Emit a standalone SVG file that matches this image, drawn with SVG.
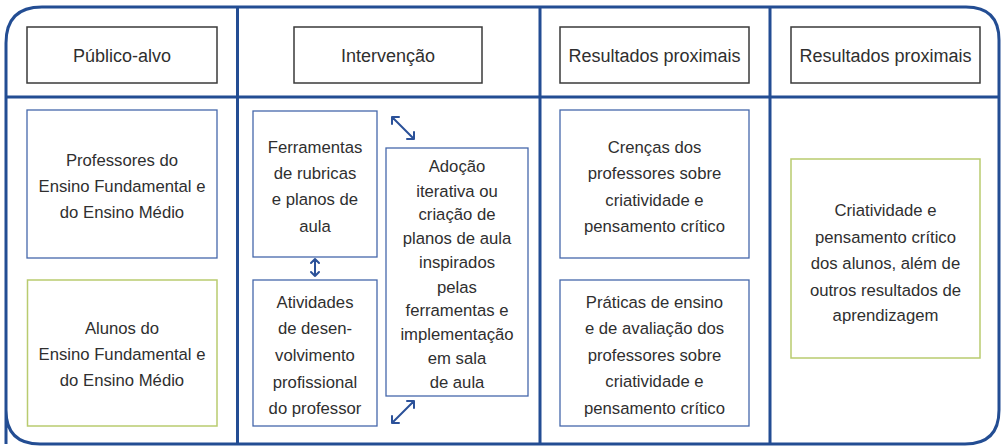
<svg xmlns="http://www.w3.org/2000/svg" width="1001" height="446" viewBox="0 0 1001 446">
<style>
text{font-family:"Liberation Sans",Arial,sans-serif;font-size:16.7px;fill:#2f2f2f;text-anchor:middle}
text.h{font-size:18px}
.frame{fill:none;stroke:#234d93;stroke-width:3}
.head{fill:#fff;stroke:#3a3a3a;stroke-width:1.5}
.blue{fill:#fff;stroke:#4568ab;stroke-width:1.3}
.green{fill:#fff;stroke:#b9cb6f;stroke-width:1.5}
.arr{fill:none;stroke:#2b5199;stroke-width:2;stroke-linecap:round;stroke-linejoin:round}
</style>
<rect width="1001" height="446" fill="#fff"/>
<g id="frame">
<path class="frame" d="M6,444 L6,43 Q6,7 42,7 L966,7 Q999,7 999,40 L999,410 Q999,444 965,444 L40,444 Q6,444 6,410 Z"/>
<line class="frame" x1="6" y1="97" x2="999" y2="97"/>
<line class="frame" x1="237.5" y1="7" x2="237.5" y2="444"/>
<line class="frame" x1="540" y1="7" x2="540" y2="444"/>
<line class="frame" x1="770" y1="7" x2="770" y2="444"/>
</g>
<g id="h1"><rect class="head" x="27" y="27" width="190" height="56"/><text class="h" x="122" y="62">Público-alvo</text></g>
<g id="h2"><rect class="head" x="294" y="27" width="188" height="56"/><text class="h" x="388" y="62">Intervenção</text></g>
<g id="h3"><rect class="head" x="560" y="27" width="189" height="56"/><text class="h" x="654.5" y="62">Resultados proximais</text></g>
<g id="h4"><rect class="head" x="791" y="27" width="189" height="56"/><text class="h" x="885.5" y="62">Resultados proximais</text></g>
<g id="professores"><rect class="blue" x="27" y="110" width="190" height="148"/>
<text x="122" y="166">Professores do</text><text x="122" y="192">Ensino Fundamental e</text><text x="122" y="218">do Ensino Médio</text></g>
<g id="alunos"><rect class="green" x="27.5" y="280" width="189.5" height="146"/>
<text x="122" y="334">Alunos do</text><text x="122" y="360">Ensino Fundamental e</text><text x="122" y="386">do Ensino Médio</text></g>
<g id="ferramentas"><rect class="blue" x="253" y="111" width="124" height="146"/>
<text x="315" y="153">Ferramentas</text><text x="315" y="179">de rubricas</text><text x="315" y="205">e planos de</text><text x="315" y="232">aula</text></g>
<g id="atividades"><rect class="blue" x="253" y="280" width="124" height="146"/>
<text x="315" y="308">Atividades</text><text x="315" y="334">de desen-</text><text x="315" y="361">volvimento</text><text x="315" y="388">profissional</text><text x="315" y="414">do professor</text></g>
<g id="adocao"><rect class="blue" x="386" y="148" width="142" height="248"/>
<text x="457" y="172">Adoção</text><text x="457" y="197">iterativa ou</text><text x="457" y="220">criação de</text><text x="457" y="244">planos de aula</text><text x="457" y="268">inspirados</text><text x="457" y="293">pelas</text><text x="457" y="316">ferramentas e</text><text x="457" y="340">implementação</text><text x="457" y="364">em sala</text><text x="457" y="388">de aula</text></g>
<g id="crencas"><rect class="blue" x="560" y="110" width="189" height="148"/>
<text x="654.5" y="153">Crenças dos</text><text x="654.5" y="179">professores sobre</text><text x="654.5" y="206">criatividade e</text><text x="654.5" y="232">pensamento crítico</text></g>
<g id="praticas"><rect class="blue" x="560" y="280" width="189" height="146"/>
<text x="654.5" y="308">Práticas de ensino</text><text x="654.5" y="334">e de avaliação dos</text><text x="654.5" y="361">professores sobre</text><text x="654.5" y="387">criatividade e</text><text x="654.5" y="414">pensamento crítico</text></g>
<g id="criatividade"><rect class="green" x="791" y="159" width="189" height="199"/>
<text x="885.5" y="216">Criatividade e</text><text x="885.5" y="243">pensamento crítico</text><text x="885.5" y="269">dos alunos, além de</text><text x="885.5" y="296">outros resultados de</text><text x="885.5" y="321">aprendizagem</text></g>
<g id="connectors">
<path class="arr" d="M392,117 L414,139 M392,117 L392,124 M392,117 L399,117 M414,139 L414,132 M414,139 L407,139"/>
<path class="arr" d="M315,259 L315,276 M311,263 L315,259 L319,263 M311,272 L315,276 L319,272"/>
<path class="arr" d="M392,423 L414,401 M392,423 L392,416 M392,423 L399,423 M414,401 L414,408 M414,401 L407,401"/>
</g>
</svg>
